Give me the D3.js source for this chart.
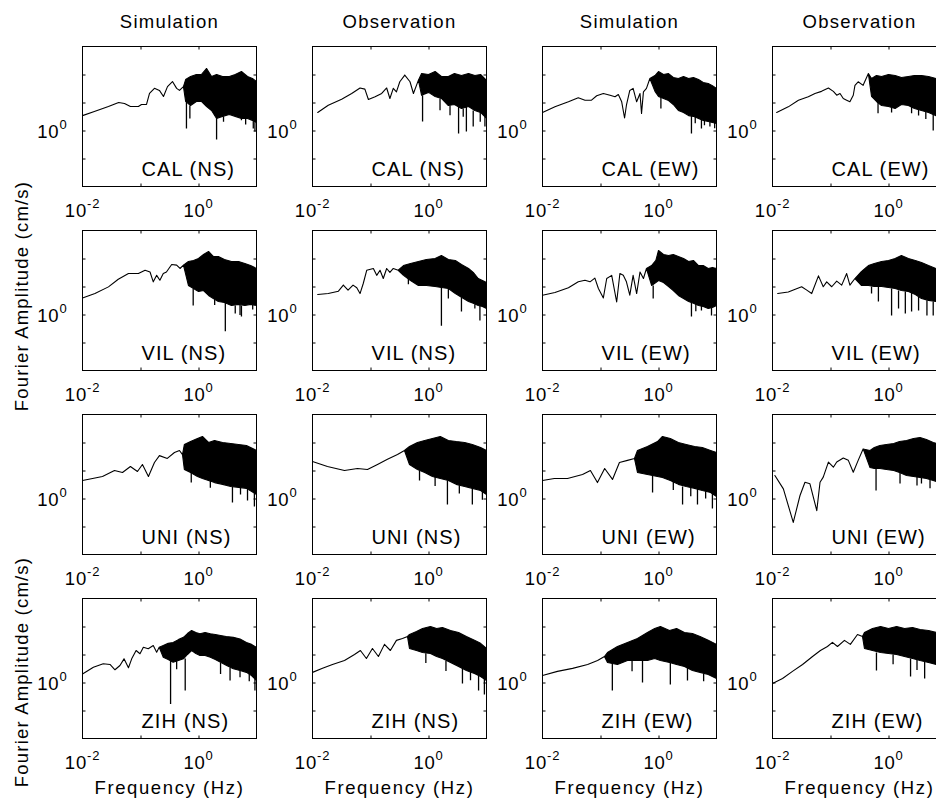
<!DOCTYPE html>
<html>
<head>
<meta charset="utf-8">
<script src="https://cdn.jsdelivr.net/npm/d3@7"></script>
<style>
  body { margin: 0; background: #fff; }
  text { font-family: "Liberation Sans", Arial, sans-serif; fill: #000; }
</style>
</head>
<body>
<div id="chart"></div>
<script>
const WIDTH = 936, HEIGHT = 804;
const PANEL_W = 174, PANEL_H = 140;
const COL_X = [82.5, 312.5, 542.5, 772.5];
const ROW_Y = [46.5, 230.5, 414.5, 598.5];

const columnTitles = ["Simulation", "Observation", "Simulation", "Observation"];
const stations = ["CAL", "VIL", "UNI", "ZIH"];
const components = ["NS", "NS", "EW", "EW"];
const xTickMarks = [0.1, 1];
const yTickMarks = [0.1, 1, 10, 100];
const xTickLabels = [0.01, 1];
const yTickLabels = [1];

// spectra: [freq Hz, amplitude cm/s] on the smooth part,
// [freq, upper, lower] where the trace is too dense to follow
const calNsSim = [[0.01,3.4],[0.016,4.8],[0.028,7.2],[0.042,10],[0.053,9.2],[0.067,7.2],[0.092,7.2],[0.104,8.5],[0.127,8.5],[0.143,21],[0.174,32],[0.212,27],[0.249,16.4],[0.292,37],[0.356,56],[0.42,32],[0.47,27],[0.55,37],
  [0.6,66,11],[0.73,85,7.8],[0.92,100,10.9],[1.12,100,10.9],[1.38,164,7.2],[1.68,85,5.2],[2.05,100,2.7],[2.6,85,3.2],[3.4,85,3.7],[4.3,100,3.2],[5.5,128,2.7],[7,85,2.7],[8.5,72,2.3],[10,56,1.93]];
const calNsSimDrops = [[0.62,11,1.18],[0.71,7.8,2.7],[1.9,5,3.5],[2.05,2.7,0.48],[2.7,3.2,2.05],[5.5,2.7,2.3],[6.5,2.7,1.64],[8.8,2.3,1.18],[9.4,2.3,0.92]];

const calNsObs = [[0.0123,4.4],[0.0187,8],[0.0318,13.1],[0.0474,21],[0.066,33],[0.08,30],[0.092,12.8],[0.12,16],[0.156,21],[0.19,33],[0.216,13.9],[0.247,32],[0.28,24],[0.32,55],[0.39,95],[0.48,55],[0.55,21],[0.67,63],
  [0.76,108,18],[1,100,23],[1.3,128,16.4],[1.67,85,14],[2.2,85,7.8],[2.8,108,8.5],[3.7,92,6.1],[4.9,108,7.2],[6.3,92,5.2],[7.9,100,4.4],[10,61,2.7]];
const calNsObsDrops = [[0.79,18,2.1],[1.58,14,5.3],[2.35,7.8,3.5],[3.3,7.2,0.78],[3.97,6.1,3.1],[4.5,7.2,0.92],[5.9,5.2,1.39],[7.8,4.4,2.05],[9.4,3.2,1.39]];

const calEwSim = [[0.01,4.4],[0.0164,7],[0.028,10.6],[0.0414,14.7],[0.054,12.1],[0.07,12.1],[0.086,17.4],[0.112,21],[0.146,18.2],[0.178,16],[0.203,19.3],[0.232,10.6],[0.26,2.8],[0.28,8],[0.32,27],[0.365,32],[0.42,10.6],[0.48,21],[0.51,4.1],[0.55,24],[0.62,32],[0.71,72],
  [0.87,92,25],[1,128,16.4],[1.22,100,13.9],[1.49,108,11.8],[1.8,78,8.5],[2.2,72,5.2],[2.7,85,4.4],[3.3,72,3.4],[4,78,3.2],[4.9,66,2.7],[5.9,52,2.3],[7.2,48,2.1],[8.5,40,1.93],[10,32,1.78]];
const calEwSimDrops = [[1.1,15,6.1],[3.7,3.4,0.78],[4.3,3.2,1.8],[5.5,2.7,1.18],[6.2,2.3,1.55],[7.7,2.1,1.39],[9.3,1.9,1.2]];

const calEwObs = [[0.0118,4.4],[0.0187,7],[0.028,12.1],[0.0414,16],[0.054,21],[0.07,25],[0.092,33],[0.112,25],[0.128,18.2],[0.146,21],[0.166,13.9],[0.19,12.1],[0.216,10.6],[0.247,18.2],[0.264,41],[0.3,55],[0.365,41],[0.45,108],
  [0.51,72,16.4],[0.62,92,10.9],[0.76,85,7.8],[1,100,7.2],[1.3,92,6.1],[1.67,78,8.5],[2.2,85,7.8],[2.8,92,6.1],[3.7,92,5.2],[4.9,85,4.4],[6.6,72,3.4],[10,56,2.7]];
const calEwObsDrops = [[0.66,10.9,4.1],[1.13,7.2,4.4],[2.5,7,4.1],[3.3,5.6,3.4],[4.4,4.8,2.6],[5.9,4.1,1]];

const vilNsSim = [[0.01,3.9],[0.0164,5.6],[0.028,9.7],[0.0414,18.2],[0.062,29],[0.092,29],[0.12,38],[0.146,33],[0.166,14.7],[0.19,25],[0.216,16.8],[0.247,29],[0.28,33],[0.345,61],[0.42,58],[0.48,44],[0.55,58],
  [0.67,78,10.9],[0.82,85,8.5],[1,100,6.6],[1.22,139,7.2],[1.49,178,4.8],[1.8,118,3.7],[2.2,118,2.9],[2.8,92,2.7],[3.7,78,2.1],[4.9,78,2.3],[6.3,66,2.1],[7.9,56,2.3],[10,44,2.1]];
const vilNsSimDrops = [[0.81,8.5,2.1],[1.9,3.5,2.2],[2.9,2.7,0.25],[4.3,2.1,1.09],[5.2,2.2,0.95],[5.5,2.1,0.85],[8.6,2.2,1.5]];

const vilNsObs = [[0.0123,5.2],[0.0187,5.6],[0.028,6.8],[0.034,11.2],[0.041,7.4],[0.05,11.2],[0.058,9],[0.066,5.6],[0.075,12.8],[0.086,38],[0.112,44],[0.128,25],[0.146,38],[0.166,19.3],[0.19,44],[0.216,32],[0.247,44],[0.3,38],
  [0.37,56,25],[0.49,66,16.4],[0.67,78,10.9],[0.92,92,10.9],[1.3,100,10],[1.67,128,9.2],[2.2,92,8.5],[2.9,85,5.6],[3.7,61,4.1],[4.9,44,2.9],[5.9,32,2.5],[7.2,19.3,2.1],[8.5,16.4,1.93],[10,13.9,1.64]];
const vilNsObsDrops = [[0.45,19,12],[1.67,9.2,0.4],[2.2,8.5,3.7],[3.7,4.1,1.28],[6.3,2.3,1.64],[7.7,2.1,0.61]];

const vilEwSim = [[0.01,4.9],[0.0164,6.1],[0.028,9],[0.0414,14.7],[0.054,16.8],[0.066,14.7],[0.08,20],[0.092,8.5],[0.112,3.9],[0.128,19.3],[0.156,25],[0.19,2.8],[0.216,29],[0.247,25],[0.28,14.7],[0.32,4.9],[0.365,25],[0.42,5.6],[0.48,33],[0.55,19.3],[0.62,44],
  [0.76,56,10.9],[0.9,85,13.9],[1,193,16.4],[1.22,139,13.9],[1.49,128,10],[1.8,139,7.2],[2.2,118,4.8],[2.7,100,3.7],[3.3,78,2.9],[4,85,2.5],[4.9,56,2.1],[5.9,56,1.93],[7.2,44,1.64],[8.5,48,1.78],[10,44,2.1]];
const vilEwSimDrops = [[0.81,10.9,3.7],[3.7,2.7,0.85],[4.4,2.4,1.3],[5.5,2.1,1.39],[8.2,1.78,0.92]];

const vilEwObs = [[0.0123,5.6],[0.0187,6.4],[0.0318,9.8],[0.039,7.4],[0.0474,5.6],[0.062,24],[0.075,9.8],[0.086,14.7],[0.105,9.8],[0.128,15.5],[0.156,11.2],[0.19,29],[0.216,11.2],[0.264,19.3],
  [0.34,34,10.9],[0.45,56,10.9],[0.57,66,10],[0.76,78,10],[1,85,9.2],[1.3,100,8.5],[1.67,128,7.2],[2.2,100,6.6],[2.9,85,5.2],[3.7,72,3.7],[4.9,56,3.2],[6.6,44,2.9],[10,32,2.3]];
const vilEwObsDrops = [[0.51,10,5.6],[0.67,10,2.9],[1.13,8.5,0.92],[1.49,7.2,1.64],[1.95,6.6,1.09],[2.5,6.1,1.28],[3.3,4.4,1.39],[4.6,3.2,0.92],[5.9,2.9,0.92]];

const uniNsSim = [[0.01,4.4],[0.0149,5.2],[0.0221,6.1],[0.0356,10],[0.0489,8.5],[0.067,13.9],[0.0886,9.2],[0.108,16.4],[0.137,6.1],[0.174,19.3],[0.212,34],[0.29,27],[0.385,44],[0.47,52],[0.53,37],
  [0.57,85,10.9],[0.73,108,8.5],[0.96,139,6.1],[1.17,164,5.2],[1.49,100,4.4],[1.89,118,3.7],[2.6,100,3.2],[3.6,92,2.7],[4.9,85,2.5],[6.7,78,2.3],[10,52,1.39]];
const uniNsSimDrops = [[0.75,8.5,3.7],[1.6,4.4,2.4],[3.85,2.7,0.72],[5.3,2.5,1.4],[7,2.3,0.85],[9.2,1.64,0.52]];

const uniNsObs = [[0.01,21],[0.0181,13.9],[0.0356,10],[0.0596,11.8],[0.0886,10.9],[0.132,16.4],[0.196,25],[0.292,37],[0.385,52],
  [0.47,72,16.4],[0.645,100,10.9],[0.86,118,8.5],[1.17,139,6.1],[1.6,164,5.2],[2.2,118,4.4],[3,108,3.2],[4.2,100,2.7],[5.7,85,2.3],[7.9,66,1.93],[10,52,1.39]];
const uniNsObsDrops = [[0.7,10,4.4],[1.3,6,2.8],[2.12,4.4,0.61],[3.4,3,1.5],[5.7,2.3,0.61],[8.5,1.8,0.9]];

const uniEwSim = [[0.01,4.4],[0.016,5.2],[0.027,5.2],[0.049,7.2],[0.067,10],[0.0886,3.7],[0.118,11.8],[0.161,4.8],[0.212,19.3],[0.292,23],[0.385,27],
  [0.434,52,8.5],[0.645,72,7.2],[0.96,108,6.1],[1.17,164,5.6],[1.6,139,4.4],[2.2,100,3.2],[3,85,2.7],[4.2,72,2.3],[5.7,66,1.93],[7.9,52,1.64],[10,44,1.18]];
const uniEwSimDrops = [[0.79,7.2,1.64],[1.8,4,2],[2.6,2.7,0.61],[3.6,2.5,1.2],[4.7,2.3,0.61],[6.5,1.8,1],[8.5,1.64,0.44]];

const uniEwObs = [[0.011,6.6],[0.0154,2.2],[0.0228,0.14],[0.0298,1.28],[0.0363,3.8],[0.0442,3.35],[0.058,0.37],[0.066,3.8],[0.075,5.8],[0.092,20],[0.112,13.1],[0.128,20],[0.166,28],[0.203,23],[0.247,8.7],[0.3,23],[0.365,59],
  [0.48,52,12.8],[0.57,66,11.8],[0.71,78,11.8],[0.92,85,10.9],[1.23,92,10],[1.55,108,8.5],[2.05,118,6.6],[2.7,139,6.1],[3.5,150,5.6],[4.5,128,5.2],[5.9,100,4.4],[7.7,85,3.7],[10,66,3.2]];
const uniEwObsDrops = [[0.61,11.8,1.93],[1.58,8.5,3.4],[3.1,6.1,2.9],[3.7,5.6,3.4],[5.2,5.2,2.3]];

const zihNsSim = [[0.01,2],[0.0154,3.5],[0.0228,4.7],[0.0298,4.4],[0.0363,2.85],[0.0442,4.05],[0.052,7],[0.062,3.35],[0.0705,7],[0.084,13.9],[0.098,10.6],[0.112,18.2],[0.136,16],[0.166,21],[0.19,12.1],[0.21,18.2],
  [0.247,21,8],[0.3,25,6.6],[0.365,27,5.3],[0.45,34,6.1],[0.55,41,7],[0.645,56,10],[0.76,72,13.9],[0.9,61,10.9],[1.06,55,9.2],[1.3,61,9.2],[1.6,55,8],[1.95,52,6.6],[2.4,48,5.3],[3,44,4.1],[3.98,41,3.1],[5.2,36,2.7],[6.7,27,2.3],[8.2,23,1.78],[10,18,1.18]];
const zihNsSimDrops = [[0.33,5.8,0.17],[0.42,6,3],[0.59,7.2,0.52],[2.4,5.2,2],[3.5,3.4,1.18],[5.2,2.7,1.55],[7.5,2,1.1],[9.4,1.39,0.52]];

const zihNsObs = [[0.01,2.3],[0.0149,3.2],[0.0221,4.4],[0.0356,6.1],[0.053,10],[0.067,13.9],[0.085,7.2],[0.108,16.4],[0.137,8.5],[0.174,23],[0.22,13.9],[0.28,32],[0.356,37],[0.434,44],
  [0.47,52,16.4],[0.62,66,13.9],[0.79,85,11.8],[1.08,100,10.9],[1.38,85,8.5],[1.74,92,7.2],[2.4,72,5.2],[3.3,61,3.7],[4.5,44,2.7],[6.2,32,2.1],[7.9,25,1.64],[10,16.4,1.18]];
const zihNsObsDrops = [[0.9,11,5],[2,6,2.6],[3.85,3.2,0.92],[5.3,2.4,1.2],[7.3,1.78,0.52],[9.2,1.39,0.37]];

const zihEwSim = [[0.01,1.78],[0.0181,2.5],[0.033,3.2],[0.06,4.4],[0.089,6.1],[0.117,8.5],
  [0.132,11.8,5.2],[0.196,19.3,4.4],[0.292,27,6.1],[0.434,37,6.1],[0.645,61,6.1],[0.86,85,7.2],[1.08,100,6.1],[1.55,72,5.2],[2.05,85,4.4],[2.8,61,3.7],[3.85,56,2.7],[5.2,44,2.3],[7.2,32,1.93],[10,23,1.39]];
const zihEwSimDrops = [[0.16,5.2,0.52],[0.35,6,2.5],[0.53,6.1,1],[1.6,5.2,0.85],[3.16,3.7,1.18],[6,2.1,1.1]];

const zihEwObs = [[0.01,0.92],[0.0149,1.39],[0.0221,2.5],[0.033,4.4],[0.049,8.5],[0.067,13.9],[0.0886,19.3],[0.108,27],[0.132,19.3],[0.174,32],[0.22,23],[0.292,52],[0.356,44],
  [0.385,61,16.4],[0.53,85,13.9],[0.73,100,11.8],[1,85,10.9],[1.38,100,10],[1.89,85,8.5],[2.6,92,7.2],[3.5,78,6.1],[4.9,72,5.2],[6.7,61,4.4],[10,44,3.2]];
const zihEwObsDrops = [[0.62,11.8,2.7],[1.2,10,4.5],[2.4,7.2,1.64],[3.1,6.5,2.8],[4.2,5.6,1.39]];

const traces = [
  [calNsSim, calNsObs, calEwSim, calEwObs],
  [vilNsSim, vilNsObs, vilEwSim, vilEwObs],
  [uniNsSim, uniNsObs, uniEwSim, uniEwObs],
  [zihNsSim, zihNsObs, zihEwSim, zihEwObs]
];
const drops = [
  [calNsSimDrops, calNsObsDrops, calEwSimDrops, calEwObsDrops],
  [vilNsSimDrops, vilNsObsDrops, vilEwSimDrops, vilEwObsDrops],
  [uniNsSimDrops, uniNsObsDrops, uniEwSimDrops, uniEwObsDrops],
  [zihNsSimDrops, zihNsObsDrops, zihEwSimDrops, zihEwObsDrops]
];

const x = d3.scaleLog().domain([0.01, 10]).range([0, PANEL_W]);
const y = d3.scaleLog().domain([0.01, 1000]).range([PANEL_H, 0]);

const svg = d3.select("#chart")
  .append("svg")
  .attr("width", WIDTH)
  .attr("height", HEIGHT);

svg.append("defs")
  .append("clipPath")
  .attr("id", "panel-clip")
  .append("rect")
  .attr("width", PANEL_W)
  .attr("height", PANEL_H);

const band = d3.area()
  .x(d => x(d[0]))
  .y0(d => y(d.length > 2 ? d[2] : d[1]))
  .y1(d => y(d[1]));

function powerLabel(sel, v) {
  sel.append("tspan").text("10");
  sel.append("tspan")
    .attr("dy", -9)
    .attr("font-size", 13)
    .text(Math.round(Math.log10(v)));
}

function tickAxis(axis, tickVals) {
  return axis.tickValues(tickVals).tickSizeInner(-3).tickSizeOuter(0).tickFormat("");
}

// column titles
svg.selectAll("text.col-title")
  .data(columnTitles)
  .enter().append("text")
  .attr("class", "col-title")
  .attr("x", (d, i) => COL_X[i] + PANEL_W / 2)
  .attr("y", 28)
  .attr("text-anchor", "middle")
  .attr("font-size", 18.5)
  .attr("letter-spacing", 1.3)
  .text(d => d);

stations.forEach((station, r) => {
  components.forEach((comp, c) => {
    const g = svg.append("g")
      .attr("transform", `translate(${COL_X[c]},${ROW_Y[r]})`);

    const plot = g.append("g").attr("clip-path", "url(#panel-clip)");

    plot.append("path")
      .datum(traces[r][c])
      .attr("d", band)
      .attr("fill", "#000")
      .attr("stroke", "#000")
      .attr("stroke-width", 1.1)
      .attr("stroke-linejoin", "round");

    plot.selectAll("line.drop")
      .data(drops[r][c])
      .enter().append("line")
      .attr("class", "drop")
      .attr("x1", d => x(d[0]))
      .attr("x2", d => x(d[0]))
      .attr("y1", d => y(d[1]))
      .attr("y2", d => y(d[2]))
      .attr("stroke", "#000")
      .attr("stroke-width", 1.3);

    // inward ticks on all four sides
    g.append("g").attr("transform", `translate(0,${PANEL_H})`)
      .call(tickAxis(d3.axisBottom(x), xTickMarks));
    g.append("g")
      .call(tickAxis(d3.axisTop(x), xTickMarks));
    g.append("g")
      .call(tickAxis(d3.axisLeft(y), yTickMarks));
    g.append("g").attr("transform", `translate(${PANEL_W},0)`)
      .call(tickAxis(d3.axisRight(y), yTickMarks));
    g.selectAll(".domain").remove();

    g.append("rect")
      .attr("width", PANEL_W)
      .attr("height", PANEL_H)
      .attr("fill", "none")
      .attr("stroke", "#000")
      .attr("stroke-width", 1);

    g.selectAll("text.xlab")
      .data(xTickLabels)
      .enter().append("text")
      .attr("class", "xlab")
      .attr("x", d => x(d))
      .attr("y", PANEL_H + 30)
      .attr("text-anchor", "middle")
      .attr("font-size", 18.5)
      .attr("letter-spacing", 0.8)
      .each(function(d) { powerLabel(d3.select(this), d); });

    g.selectAll("text.ylab")
      .data(yTickLabels)
      .enter().append("text")
      .attr("class", "ylab")
      .attr("x", -15)
      .attr("y", d => y(d) + 7.5)
      .attr("text-anchor", "end")
      .attr("font-size", 18.5)
      .attr("letter-spacing", 0.8)
      .each(function(d) { powerLabel(d3.select(this), d); });

    g.append("text")
      .attr("x", 59)
      .attr("y", 129.5)
      .attr("font-size", 20)
      .attr("letter-spacing", 1.1)
      .text(`${station} (${comp})`);
  });
});

// axis titles
svg.selectAll("text.freq")
  .data(COL_X)
  .enter().append("text")
  .attr("class", "freq")
  .attr("x", d => d + PANEL_W / 2)
  .attr("y", 794)
  .attr("text-anchor", "middle")
  .attr("font-size", 18.5)
  .attr("letter-spacing", 1.6)
  .text("Frequency (Hz)");

svg.selectAll("text.amp")
  .data([296, 672])
  .enter().append("text")
  .attr("class", "amp")
  .attr("transform", d => `translate(28,${d}) rotate(-90)`)
  .attr("text-anchor", "middle")
  .attr("font-size", 18.5)
  .attr("letter-spacing", 1.2)
  .text("Fourier Amplitude (cm/s)");
</script>
</body>
</html>
